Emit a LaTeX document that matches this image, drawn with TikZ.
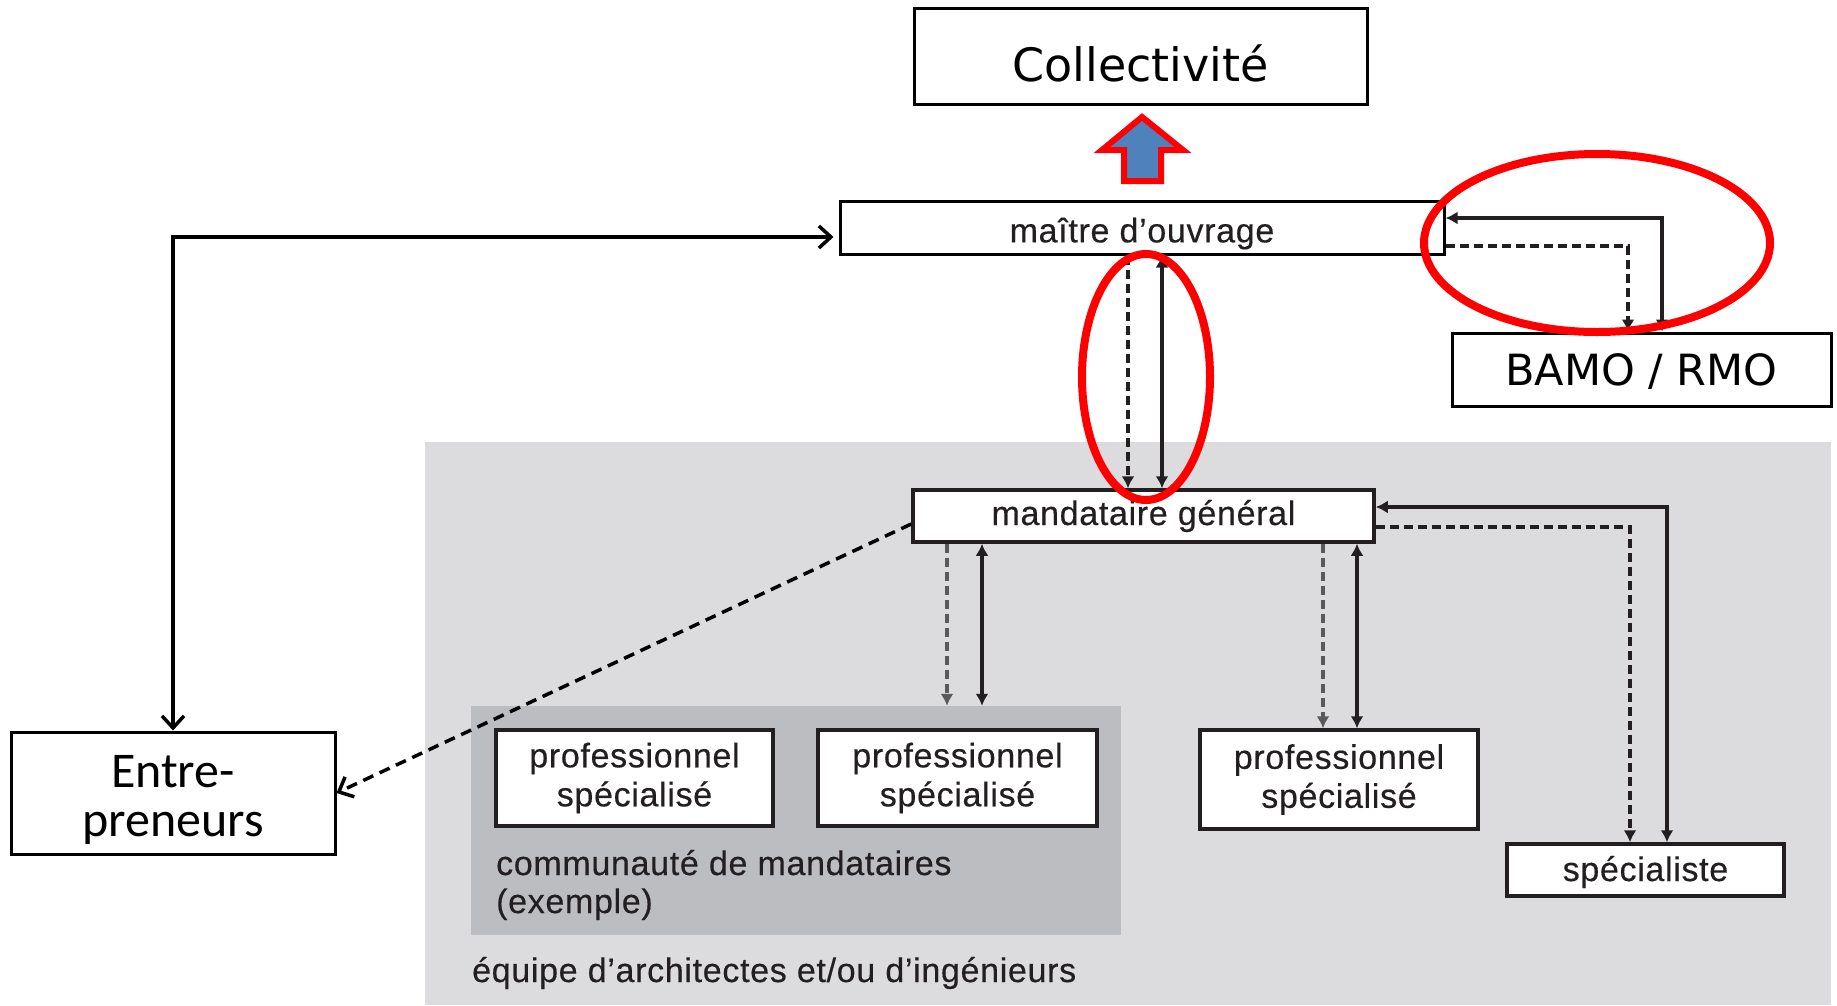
\documentclass[tikz,border=0pt]{standalone}
\usepackage{fontspec}
\setmainfont{Liberation Sans}
\newfontfamily\boitefont[FakeBold=0.4, LetterSpace=2]{Liberation Sans}
\newfontfamily\verdanafont{DejaVu Sans}
\newfontfamily\calibrifont{Carlito}
\usetikzlibrary{arrows.meta, positioning}

\definecolor{bleufleche}{HTML}{4F81BD}
\definecolor{grisclair}{HTML}{DCDCDE}
\definecolor{grisfonce}{HTML}{BCBDC1}
\definecolor{encre}{HTML}{231F20}

\newcommand{\abaisse}[2]{\raisebox{-#1}[\height][\depth]{#2}}

\begin{document}
\begin{tikzpicture}[
            x=1pt, y=-1pt,
            >={Latex[length=12pt,width=13pt]},
            grand/.style={draw=black, line width=3pt, fill=white, inner sep=0pt, align=center},
            boite/.style={draw=encre, line width=3.5pt, fill=white, inner sep=0pt, align=center, text=encre, font=\boitefont\fontsize{34}{39}\selectfont},
            zone/.style={fill=#1, inner sep=0pt},
            lien/.style={draw=encre, line width=3.2pt},
            pointille/.style={lien, dash pattern=on 9pt off 5pt},
            ouvert/.style={draw=black, line width=3.5pt, >={Straight Barb[length=12pt,width=22pt]}},
            legende/.style={anchor=base west, inner sep=0pt, text=encre, font=\boitefont\fontsize{34}{39}\selectfont},
            entoure/.style={draw=red, line width=8pt},
            fleche/.style={draw=red, line width=6pt, fill=bleufleche, line join=miter}
        ]

        \useasboundingbox (0,0) rectangle (1837,1005);

        % Zones grises
        \node[zone=grisclair, minimum width=1406pt, minimum height=563pt] (equipe) at (1128,723.5) {};
        \node[zone=grisfonce, minimum width=650pt, minimum height=229pt] (comm) at (796,820.5) {};

        % Boites principales
        \node[grand, minimum width=453pt, minimum height=96pt, font=\verdanafont\fontsize{46}{50}\selectfont] (coll) at (1140.5,56) {\abaisse{7pt}{Collectivité}};
        \node[boite, draw=black, line width=3pt, minimum width=604pt, minimum height=53pt] (mo) at (1142,227.5) {\abaisse{6pt}{maître d’ouvrage}};
        \node[grand, minimum width=379pt, minimum height=73pt, font=\verdanafont\fontsize{43}{48}\selectfont] (bamo) at (1641.5,369.5) {\abaisse{2pt}{BAMO / RMO}};
        \node[grand, minimum width=324pt, minimum height=122pt, font=\calibrifont\fontsize{50}{49}\selectfont] (ent) at (173,793) {\abaisse{7pt}{Entre-}\\\abaisse{7pt}{preneurs}};

        % Equipe de mandataires
        \node[boite, minimum width=461pt, minimum height=52pt] (mg) at (1143.5,516) {mandataire général};
        \node[boite, minimum width=277pt, minimum height=96pt] (ps1) at (634.5,778) {professionnel\\spécialisé};
        \node[boite, minimum width=279pt, minimum height=96pt] (ps2) at (957.5,778) {professionnel\\spécialisé};
        \node[boite, minimum width=278pt, minimum height=99pt] (ps3) at (1339,779.5) {professionnel\\spécialisé};
        \node[boite, minimum width=277pt, minimum height=52pt] (spec) at (1645.5,870) {\abaisse{2pt}{spécialiste}};

        % Legendes
        \node[legende] (commlabel) at (496,875) {communauté de mandataires};
        \node[legende] (commex) at (496,913) {(exemple)};
        \node[legende] (equipelabel) at (472,982) {équipe d’architectes et/ou d’ingénieurs};

        % Liens maitre d'ouvrage
        \draw[pointille, ->] ([xshift=-14pt]mo.south) -- ([xshift=-14pt]mo.south |- mg.north);
        \draw[lien, <->] ([xshift=20pt]mo.south) -- ([xshift=20pt]mo.south |- mg.north);
        \draw[lien, <->] ([yshift=9.5pt]mo.east) -| ([xshift=20.5pt]bamo.north);
        \draw[pointille, ->] ([yshift=-18.5pt]mo.east) -| ([xshift=-13.5pt]bamo.north);
        \draw[ouvert, <->] (ent.north) |- ([yshift=-9.5pt, xshift=-5pt]mo.west);

        % Liens mandataire general
        \draw[pointille, draw=black!65, ->] ([xshift=-196.5pt]mg.south) -- ([xshift=-196.5pt]mg.south |- comm.north);
        \draw[lien, <->] ([xshift=-161.5pt]mg.south) -- ([xshift=-161.5pt]mg.south |- comm.north);
        \draw[pointille, draw=black!65, ->] ([xshift=179.5pt]mg.south) -- ([xshift=179.5pt]mg.south |- ps3.north);
        \draw[lien, <->] ([xshift=213.5pt]mg.south) -- ([xshift=213.5pt]mg.south |- ps3.north);
        \draw[lien, <->] ([yshift=9pt]mg.east) -| ([xshift=21.5pt]spec.north);
        \draw[pointille, ->] ([yshift=-11pt]mg.east) -| ([xshift=-15.5pt]spec.north);
        \draw[ouvert, dash pattern=on 11pt off 7pt, ->] ([yshift=-8pt]mg.west) -- (ent.east);

        % Fleche vers la collectivite
        \draw[fleche] (1142,117) -- (1183,150) -- (1161,150) -- (1161,181) -- (1124,181) -- (1124,150) -- (1102,150) -- cycle;

        % Mises en evidence
        \draw[entoure] (1146,377) ellipse [x radius=64pt, y radius=123pt];
        \draw[entoure] (1597,243) ellipse [x radius=173pt, y radius=89pt];

        \end{tikzpicture}
\end{document}
